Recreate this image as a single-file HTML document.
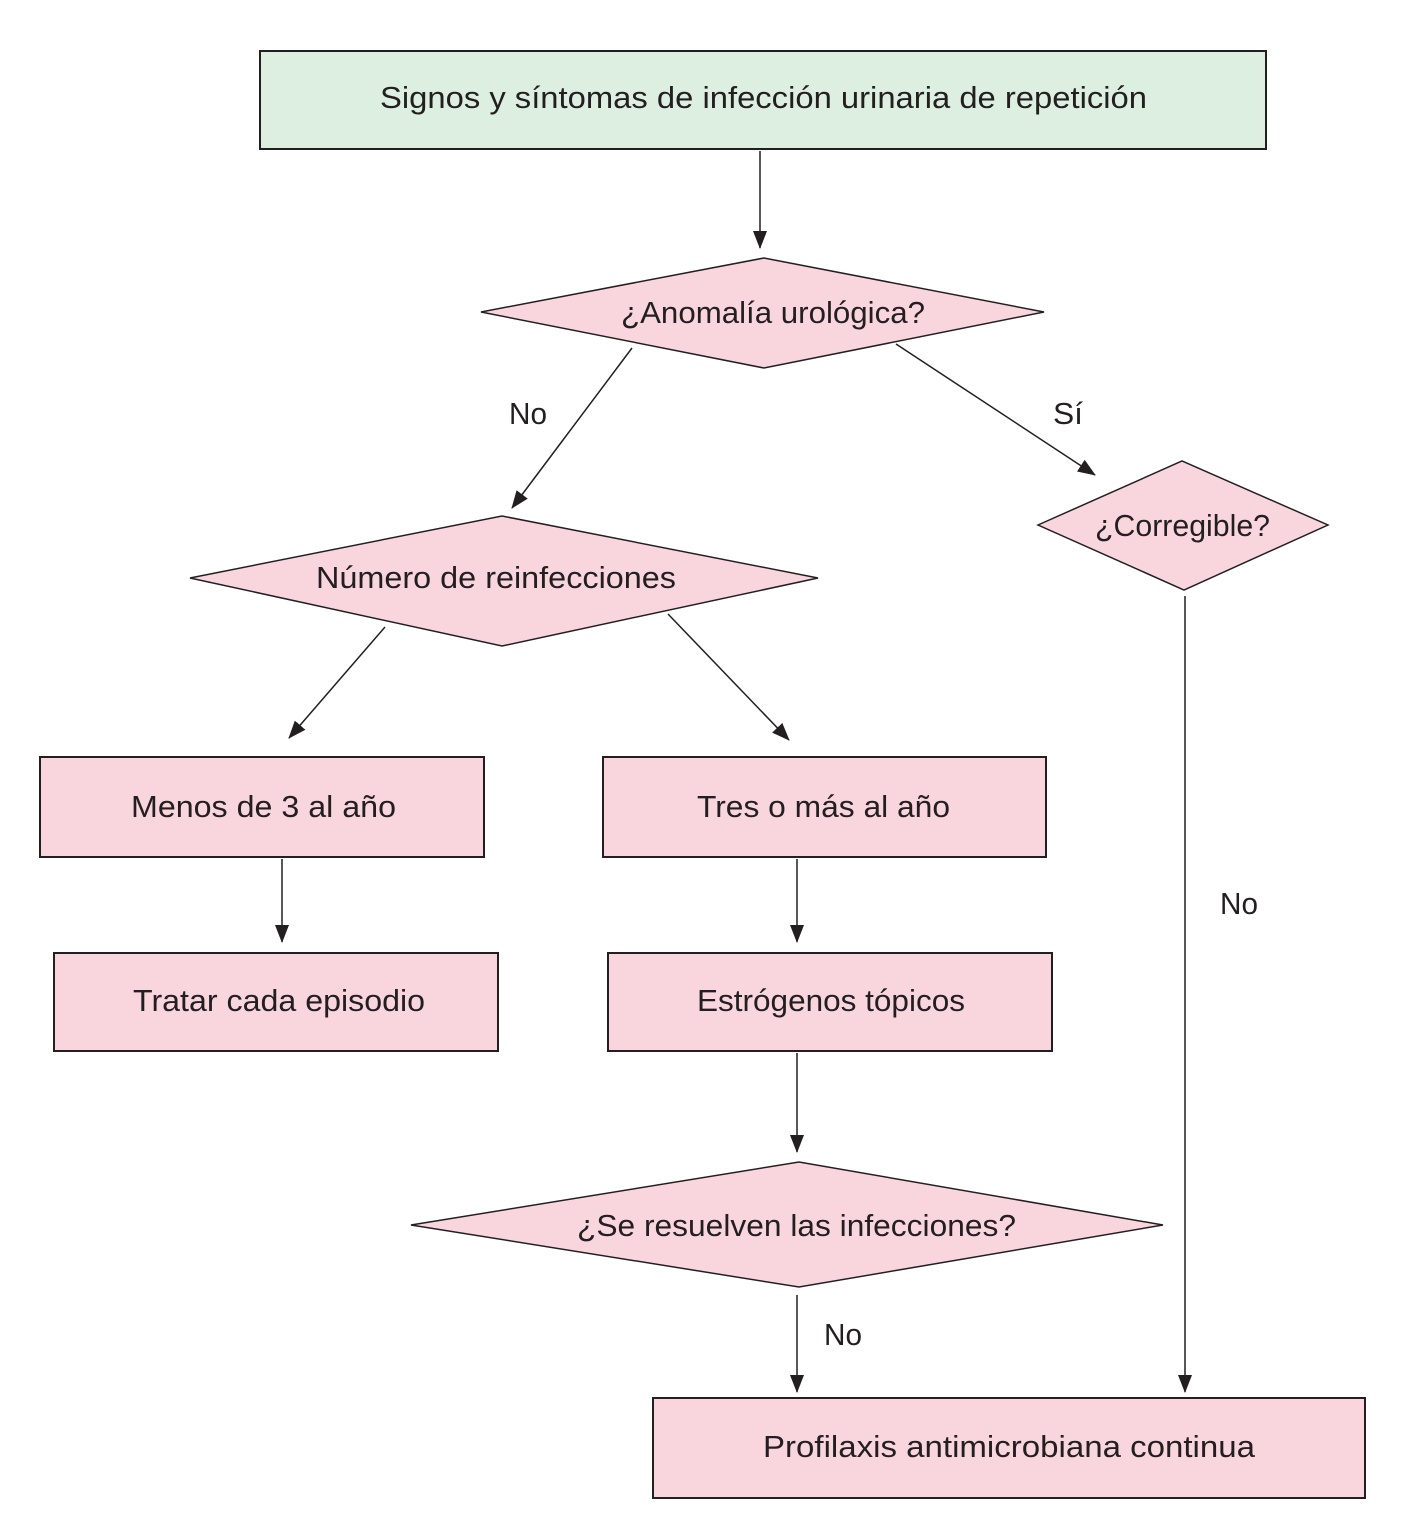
<!DOCTYPE html>
<html><head><meta charset="utf-8"><style>
html,body{margin:0;padding:0;background:#fff;}
svg{display:block;}
text{font-family:"Liberation Sans Narrow","Liberation Sans",sans-serif;font-size:31px;fill:#231f20;}
</style></head><body>
<svg width="1408" height="1525" viewBox="0 0 1408 1525" xmlns="http://www.w3.org/2000/svg">
<defs><marker id="a" markerWidth="10" markerHeight="10" refX="9" refY="5" orient="auto" markerUnits="userSpaceOnUse" viewBox="0 0 10 10"><path d="M0,0 L10,5 L0,10 z" fill="#231f20"/></marker>
<marker id="b" markerWidth="18" markerHeight="18" refX="17" refY="9" orient="auto" markerUnits="userSpaceOnUse" viewBox="0 0 18 18"><path d="M0,2 L18,9 L0,16 z" fill="#231f20"/></marker></defs>
<g stroke="#231f20" stroke-width="2">
<rect x="260" y="51" width="1006" height="98" fill="#dcefe0"/>
<polygon points="481,312 764,258 1044,312 764,368" fill="#f9d6de" stroke-width="1.5"/>
<polygon points="1038,525 1182,461 1328,525 1184,590" fill="#f9d6de" stroke-width="1.5"/>
<polygon points="190,578 502,516 818,578 502,646" fill="#f9d6de" stroke-width="1.5"/>
<rect x="40" y="757" width="444" height="100" fill="#f9d6de"/>
<rect x="603" y="757" width="443" height="100" fill="#f9d6de"/>
<rect x="54" y="953" width="444" height="98" fill="#f9d6de"/>
<rect x="608" y="953" width="444" height="98" fill="#f9d6de"/>
<polygon points="411,1225 799,1162 1163,1225 799,1287" fill="#f9d6de" stroke-width="1.5"/>
<rect x="653" y="1398" width="712" height="100" fill="#f9d6de"/>
<g fill="none" stroke-width="1.5">
<line x1="760" y1="151" x2="760" y2="248" marker-end="url(#b)"/>
<line x1="632" y1="348" x2="512" y2="508" marker-end="url(#b)"/>
<line x1="896" y1="344" x2="1095" y2="475" marker-end="url(#b)"/>
<line x1="385" y1="627" x2="289" y2="738" marker-end="url(#b)"/>
<line x1="668" y1="614" x2="789" y2="740" marker-end="url(#b)"/>
<line x1="282" y1="859" x2="282" y2="942" marker-end="url(#b)"/>
<line x1="797" y1="859" x2="797" y2="942" marker-end="url(#b)"/>
<line x1="797" y1="1053" x2="797" y2="1152" marker-end="url(#b)"/>
<line x1="797" y1="1295" x2="797" y2="1392" marker-end="url(#b)"/>
<line x1="1185" y1="596" x2="1185" y2="1392" marker-end="url(#b)"/>
</g></g>
<text x="380" y="108" textLength="767" lengthAdjust="spacingAndGlyphs">Signos y síntomas de infección urinaria de repetición</text>
<text x="621" y="323" textLength="304" lengthAdjust="spacingAndGlyphs">¿Anomalía urológica?</text>
<text x="509" y="424" textLength="38" lengthAdjust="spacingAndGlyphs">No</text>
<text x="1053" y="424" textLength="30" lengthAdjust="spacingAndGlyphs">Sí</text>
<text x="1095" y="536" textLength="175" lengthAdjust="spacingAndGlyphs">¿Corregible?</text>
<text x="316" y="588" textLength="360" lengthAdjust="spacingAndGlyphs">Número de reinfecciones</text>
<text x="131" y="817" textLength="265" lengthAdjust="spacingAndGlyphs">Menos de 3 al año</text>
<text x="697" y="817" textLength="253" lengthAdjust="spacingAndGlyphs">Tres o más al año</text>
<text x="133" y="1011" textLength="292" lengthAdjust="spacingAndGlyphs">Tratar cada episodio</text>
<text x="697" y="1011" textLength="268" lengthAdjust="spacingAndGlyphs">Estrógenos tópicos</text>
<text x="1220" y="914" textLength="38" lengthAdjust="spacingAndGlyphs">No</text>
<text x="577" y="1236" textLength="439" lengthAdjust="spacingAndGlyphs">¿Se resuelven las infecciones?</text>
<text x="824" y="1345" textLength="38" lengthAdjust="spacingAndGlyphs">No</text>
<text x="763" y="1457" textLength="492" lengthAdjust="spacingAndGlyphs">Profilaxis antimicrobiana continua</text>
</svg>
</body></html>
